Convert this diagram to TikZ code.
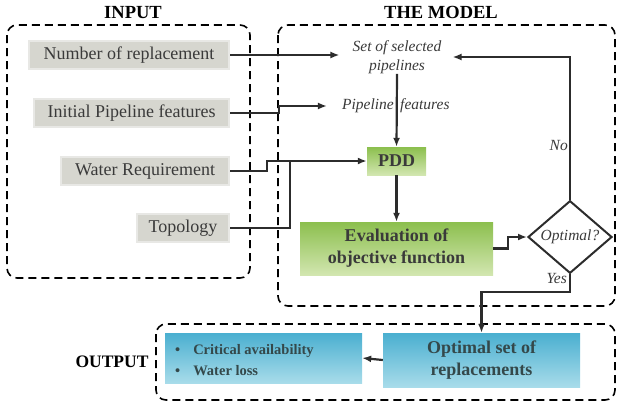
\documentclass[tikz,border=0pt]{standalone}
\usepackage{fontspec}
\setmainfont{Liberation Serif}
\usetikzlibrary{arrows.meta,shapes.geometric}
\definecolor{txt}{HTML}{3A3A3A}
\definecolor{ln}{HTML}{2C2C2C}
\definecolor{graybox}{HTML}{D6D6CF}
\definecolor{gtop}{HTML}{8CBF4E}
\definecolor{gbot}{HTML}{D2E6B0}
\definecolor{btop}{HTML}{4AAFD0}
\definecolor{bbot}{HTML}{A8DCEA}
\definecolor{btxt}{HTML}{34484A}
\begin{document}
\begin{tikzpicture}[x=1pt,y=-1pt,
  inbox/.style={fill=graybox,draw=graybox!55!white,line width=2.5pt,text=txt,inner sep=0pt,minimum height=28pt,font=\fontsize{18}{20}\selectfont},
  grbox/.style={top color=gtop,bottom color=gbot,text=txt,inner sep=0pt,align=center,font=\bfseries\fontsize{18}{22}\selectfont},
  blbox/.style={top color=btop,bottom color=bbot,text=btxt,inner sep=0pt,align=center,font=\bfseries\fontsize{18}{22}\selectfont},
  grp/.style={draw=black,line width=1.6pt,dash pattern=on 8pt off 5pt,rounded corners=10pt},
  title/.style={font=\bfseries\fontsize{18.5}{20}\selectfont},
  itl/.style={font=\itshape\fontsize{15.5}{19}\selectfont,text=txt,inner sep=0pt},
  arr/.style={draw=ln,line width=2.2pt,-{Latex[length=9pt,width=7pt]}},
  lin/.style={draw=ln,line width=2.2pt}
]
\useasboundingbox (0,0) rectangle (617,405);
% groups
\draw[grp] (7,25) rectangle (250,278);
\draw[grp] (278,25) rectangle (615,306);
\draw[grp] (156,324) rectangle (615,400);
\node[title] (tin) at (133,13) {INPUT};
\node[title] (tmod) at (441,12) {THE MODEL};
\node[title,font=\bfseries\fontsize{17.5}{20}\selectfont] (tout) at (112,362) {OUTPUT};
% inputs
\node[inbox,minimum width=200pt] (n1) at (129,55) {Number of replacement};
\node[inbox,minimum width=195pt] (n2) at (131.5,113) {Initial Pipeline features};
\node[inbox,minimum width=168pt] (n3) at (145,171) {Water Requirement};
\node[inbox,minimum width=92pt] (n4) at (183,228) {Topology};
% model
\node[itl,align=center] (s1) at (397,57) {Set of selected\\pipelines};
\node[itl,anchor=east] (p1) at (394,106) {Pipeline};
\node[itl,anchor=west] (p2) at (400,106) {features};
\node[grbox,minimum width=59pt,minimum height=28pt] (pdd) at (396.5,161) {PDD};
\node[grbox,minimum width=193pt,minimum height=53pt] (ev) at (396.5,248.5) {Evaluation of\\objective function};
\node[diamond,draw=ln,line width=2pt,minimum width=84pt,minimum height=58pt,inner sep=0pt,itl] (dia) at (570,237) {Optimal?};
\node[blbox,minimum width=197pt,minimum height=54pt] (opt) at (481.5,360) {Optimal set of\\replacements};
\node[blbox,minimum width=197pt,minimum height=50pt] (out) at (263.5,358) {};
\node[text=btxt,align=left,anchor=west,inner sep=0pt,font=\bfseries\fontsize{14.5}{21}\selectfont] (ol) at (175,360) {\textbullet\hspace{13pt}Critical availability\\\textbullet\hspace{13pt}Water loss};
\node[itl,anchor=east] (no) at (568,145) {No};
\node[itl,anchor=east] (yes) at (567,278) {Yes};
% connectors
\draw[arr,shorten >=13pt] (n1.east) -- (s1.west |- n1.east);
\draw[arr,shorten >=15pt] (n2.east) -- ++(49,0) |- (p1.west);
\draw[arr] (n3.east) -- ++(37,0) |- (pdd.west);
\coordinate (j) at (290,161);
\draw[lin] (n4.east) -| (j);
\draw[arr] (s1.south) -- (pdd.north);
\draw[arr] (pdd.south) -- (ev.north);
\draw[arr] (ev.east) -- ++(15,0) |- (dia.west);
\coordinate (c1) at (570,57);
\draw[arr,shorten >=11pt] (dia.north) -- (c1) -- (s1.east |- c1);
\coordinate (c2) at (570,292);
\draw[arr] (dia.south) -- (c2) -| (opt.north);
\draw[arr] (opt.west) -- (out.east);
\end{tikzpicture}
\end{document}
